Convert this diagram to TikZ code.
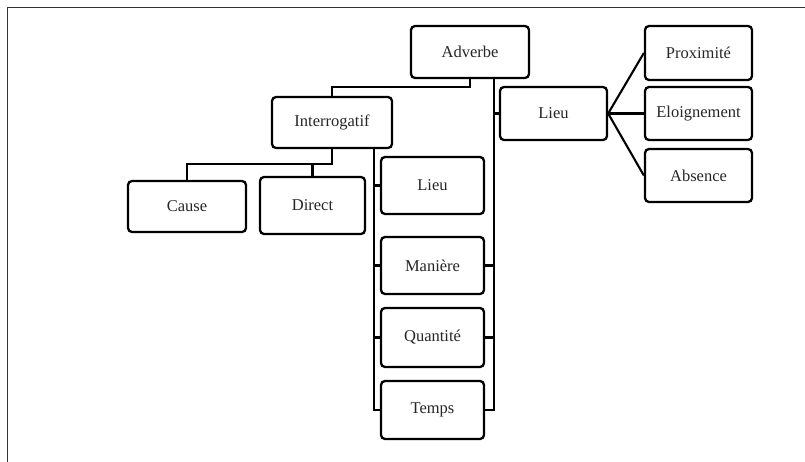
\documentclass[tikz,border=0pt]{standalone}
\usepackage{fontspec}
\setmainfont{Liberation Serif}
\begin{document}
\begin{tikzpicture}[x=1pt,y=-1pt,
  box/.style={draw=black, line width=2.3pt, rounded corners=4pt, fill=white,
    inner sep=0pt, font=\fontsize{16.5}{19}\selectfont, text=black!85},
  conn/.style={draw=black, line width=2.1pt}]
\useasboundingbox (0,0) rectangle (805,462);
\draw[line width=1pt, black!80] (805,8) -- (7,8) -- (7,462);
% nodes
\node[box, minimum width=118pt, minimum height=52pt] (adv) at (470,52) {Adverbe};
\node[box, minimum width=120pt, minimum height=51pt] (inter) at (332,122.5) {Interrogatif};
\node[box, minimum width=107pt, minimum height=53pt] (lieuR) at (553.5,113.5) {Lieu};
\node[box, minimum width=107pt, minimum height=54pt] (prox) at (698.5,53) {Proximité};
\node[box, minimum width=107pt, minimum height=53pt] (eloi) at (698.5,113.5) {Eloignement};
\node[box, minimum width=107pt, minimum height=53pt] (abs) at (698.5,175.5) {Absence};
\node[box, minimum width=118pt, minimum height=51pt] (cause) at (187,206.5) {Cause};
\node[box, minimum width=105pt, minimum height=57pt] (direct) at (312.5,205.5) {Direct};
\node[box, minimum width=103pt, minimum height=57pt] (lieuM) at (432.5,185.5) {Lieu};
\node[box, minimum width=103pt, minimum height=57pt] (man) at (432.5,265.5) {Manière};
\node[box, minimum width=103pt, minimum height=59pt] (quant) at (432.5,337.5) {Quantité};
\node[box, minimum width=103pt, minimum height=58pt] (temps) at (432.5,410) {Temps};
% junction coordinates
\coordinate (j1) at (470,87);
\coordinate (j2) at (332,164);
\coordinate (rs) at (494,410);
\coordinate (ls) at (374,410);
% connectors
\draw[conn] (adv.south) -- (j1) -| (inter.north);
\draw[conn] (inter.south) -- (j2) -| (cause.north);
\draw[conn] (j2 -| direct.north) -- (direct.north);
\draw[conn] (adv.south -| rs) -- (rs) -- (temps.east);
\draw[conn] (lieuR.west) -- (lieuR.west -| rs);
\draw[conn] (man.east) -- (man.east -| rs);
\draw[conn] (quant.east) -- (quant.east -| rs);
\draw[conn] (inter.south -| ls) -- (ls) -- (temps.west);
\draw[conn] (lieuM.west) -- (lieuM.west -| ls);
\draw[conn] (man.west) -- (man.west -| ls);
\draw[conn] (quant.west) -- (quant.west -| ls);
\draw[conn] (lieuR.east) -- (prox.west);
\draw[conn] (lieuR.east) -- (eloi.west);
\draw[conn] (lieuR.east) -- (abs.west);
\end{tikzpicture}
\end{document}
